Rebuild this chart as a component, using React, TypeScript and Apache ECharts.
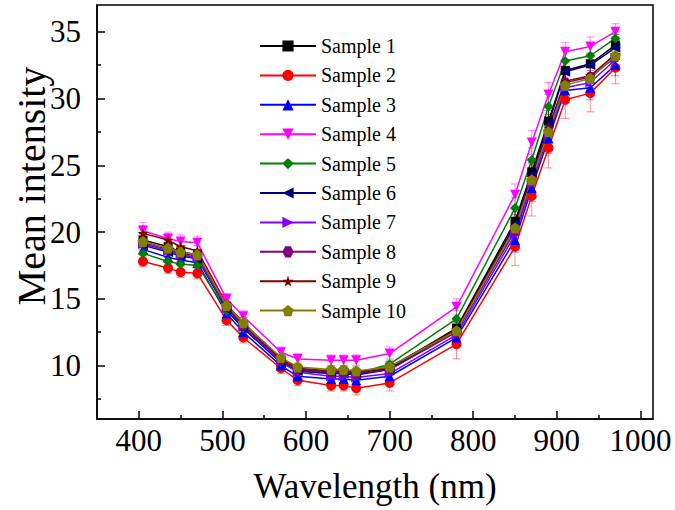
import React, { useEffect, useRef } from "react";
import * as echarts from "echarts";

const wavelengths = [405, 435, 450, 470, 505, 525, 570, 590, 630, 645, 660, 700, 780, 850, 870, 890, 910, 940, 970];

const sampleNames = ["Sample 1", "Sample 2", "Sample 3", "Sample 4", "Sample 5", "Sample 6", "Sample 7", "Sample 8", "Sample 9", "Sample 10"];

const sample1 = [19.4, 18.9, 18.5, 18.3, 14.4, 13.0, 10.4, 9.7, 9.5, 9.5, 9.4, 9.8, 12.8, 20.8, 24.5, 28.3, 32.1, 32.6, 34.0];
const sample2 = [17.8, 17.3, 17.0, 16.9, 13.4, 12.1, 9.8, 8.9, 8.5, 8.5, 8.3, 8.7, 11.6, 18.9, 22.7, 26.3, 29.9, 30.4, 32.3];
const sample3 = [18.7, 18.1, 17.9, 17.7, 13.9, 12.5, 10.0, 9.2, 9.0, 9.0, 8.9, 9.2, 12.1, 19.4, 23.3, 27.0, 30.6, 30.8, 32.5];
const sample4 = [20.1, 19.5, 19.3, 19.2, 15.0, 13.7, 11.0, 10.5, 10.4, 10.4, 10.4, 10.9, 14.4, 22.8, 26.7, 30.3, 33.5, 33.9, 35.0];
const sample5 = [18.4, 17.8, 17.6, 17.5, 14.1, 12.8, 10.3, 9.6, 9.4, 9.4, 9.4, 10.1, 13.5, 21.8, 25.4, 29.4, 32.8, 33.2, 34.5];
const sample6 = [19.0, 18.5, 18.2, 18.0, 14.2, 12.8, 10.2, 9.6, 9.4, 9.4, 9.3, 9.7, 12.6, 20.6, 24.3, 28.1, 32.0, 32.5, 33.8];
const sample7 = [19.1, 18.6, 18.3, 18.1, 14.3, 12.9, 10.3, 9.5, 9.2, 9.2, 9.1, 9.4, 12.3, 19.8, 23.6, 27.3, 30.8, 31.2, 32.9];
const sample8 = [19.2, 18.7, 18.4, 18.2, 14.4, 13.0, 10.4, 9.7, 9.5, 9.5, 9.4, 9.7, 12.5, 20.1, 23.8, 27.6, 31.2, 31.6, 33.1];
const sample9 = [19.9, 19.4, 18.9, 18.6, 14.6, 13.2, 10.5, 9.8, 9.6, 9.6, 9.5, 9.9, 12.7, 20.4, 24.1, 27.8, 31.3, 31.7, 33.3];
const sample10 = [19.3, 18.8, 18.5, 18.3, 14.5, 13.2, 10.6, 9.9, 9.7, 9.7, 9.6, 9.9, 12.6, 20.3, 23.9, 27.5, 31.0, 31.5, 33.2];

const err1 = [0.5, 0.5, 0.5, 0.4, 0.4, 0.4, 0.3, 0.3, 0.3, 0.3, 0.3, 0.4, 0.6, 0.9, 1.0, 1.0, 0.8, 0.8, 0.8];
const err2 = [0.4, 0.4, 0.4, 0.4, 0.4, 0.4, 0.4, 0.4, 0.4, 0.4, 0.5, 0.6, 1.1, 1.4, 1.5, 1.5, 1.4, 1.4, 1.2];
const err3 = [0.4, 0.4, 0.4, 0.4, 0.3, 0.3, 0.3, 0.3, 0.3, 0.3, 0.3, 0.4, 0.6, 0.9, 1.0, 1.1, 0.9, 0.9, 0.8];
const err4 = [0.6, 0.5, 0.5, 0.5, 0.4, 0.4, 0.4, 0.4, 0.4, 0.4, 0.4, 0.5, 0.6, 0.8, 0.9, 0.9, 0.7, 0.7, 0.6];
const err5 = [0.5, 0.4, 0.4, 0.4, 0.4, 0.3, 0.3, 0.3, 0.3, 0.3, 0.3, 0.4, 0.6, 0.8, 0.9, 0.9, 0.8, 0.8, 0.7];
const err6 = [0.5, 0.4, 0.4, 0.4, 0.4, 0.3, 0.3, 0.3, 0.3, 0.3, 0.3, 0.4, 0.6, 0.9, 0.9, 1.0, 0.8, 0.8, 0.8];
const err7 = [0.5, 0.5, 0.4, 0.4, 0.4, 0.3, 0.3, 0.3, 0.3, 0.3, 0.3, 0.4, 0.6, 0.9, 1.0, 1.0, 0.9, 0.9, 0.8];
const err8 = [0.5, 0.5, 0.4, 0.4, 0.4, 0.3, 0.3, 0.3, 0.3, 0.3, 0.3, 0.4, 0.6, 0.9, 1.0, 1.0, 0.9, 0.9, 0.8];
const err9 = [0.6, 0.5, 0.5, 0.4, 0.4, 0.4, 0.3, 0.3, 0.3, 0.3, 0.3, 0.4, 0.6, 0.9, 1.0, 1.0, 0.9, 0.9, 0.8];
const err10 = [0.5, 0.5, 0.4, 0.4, 0.4, 0.4, 0.3, 0.3, 0.3, 0.3, 0.3, 0.4, 0.6, 0.9, 1.0, 1.0, 0.9, 0.9, 0.8];

const sampleValues = [sample1, sample2, sample3, sample4, sample5, sample6, sample7, sample8, sample9, sample10];
const sampleErrors = [err1, err2, err3, err4, err5, err6, err7, err8, err9, err10];

const xMajorTicks = [400, 500, 600, 700, 800, 900, 1000];
const xMinorTicks = [450, 550, 650, 750, 850, 950];
const yMajorTicks = [10, 15, 20, 25, 30, 35];
const yMinorTicks = [7.5, 12.5, 17.5, 22.5, 27.5, 32.5];

const yTitle = "Mean intensity";
const xTitle = "Wavelength (nm)";

const colors = ["#000000", "#ff0000", "#0000ff", "#ff00ff", "#008000", "#000080", "#8000ff", "#800080", "#800000", "#808000"];
const symbols = [
  "rect",
  "circle",
  "triangle",
  "path://M0,0 L10,0 L5,9 Z",
  "diamond",
  "path://M0,5 L9,0 L9,10 Z",
  "path://M0,0 L9,5 L0,10 Z",
  "path://M2.5,0 L7.5,0 L10,4.33 L7.5,8.66 L2.5,8.66 L0,4.33 Z",
  "path://M5,0 L6.18,3.6 L10,3.6 L6.9,5.8 L8.1,9.5 L5,7.3 L1.9,9.5 L3.1,5.8 L0,3.6 L3.82,3.6 Z",
  "path://M5,0 L10,3.6 L8.1,9.5 L1.9,9.5 L0,3.6 Z",
];
const symbolSizes = [9, 10, 10, 10, 10, 10, 10, 10, 11, 11];

const FONT = "'Liberation Serif', 'Times New Roman', serif";

export default function App() {
  const ref = useRef<HTMLDivElement>(null);
  useEffect(() => {
    if (!ref.current) return;
    const chart = echarts.init(ref.current, undefined, { renderer: "svg" });

    const errSeries = sampleNames.map((name, i) => ({
      type: "custom",
      name: "err" + (i + 1),
      xAxisIndex: 0,
      yAxisIndex: 0,
      z: 1,
      silent: true,
      data: wavelengths.map((w, j) => [w, sampleValues[i][j], sampleErrors[i][j]]),
      renderItem: (params: any, api: any) => {
        const x = api.value(0);
        const y = api.value(1);
        const e = api.value(2);
        const lo = api.coord([x, y - e]);
        const hi = api.coord([x, y + e]);
        const hw = 4;
        const style = { stroke: colors[i], lineWidth: 1, opacity: 0.45 };
        return {
          type: "group",
          children: [
            { type: "line", shape: { x1: lo[0], y1: lo[1], x2: hi[0], y2: hi[1] }, style },
            { type: "line", shape: { x1: lo[0] - hw, y1: lo[1], x2: lo[0] + hw, y2: lo[1] }, style },
            { type: "line", shape: { x1: hi[0] - hw, y1: hi[1], x2: hi[0] + hw, y2: hi[1] }, style },
          ],
        };
      },
    }));

    const lineSeries = sampleNames.map((name, i) => ({
      type: "line",
      name,
      xAxisIndex: 0,
      yAxisIndex: 0,
      z: 2,
      data: wavelengths.map((w, j) => [w, sampleValues[i][j]]),
      symbol: symbols[i],
      symbolSize: symbolSizes[i],
      showAllSymbol: true,
      lineStyle: { color: colors[i], width: 1.5 },
      itemStyle: { color: colors[i] },
    }));

    const xBase = {
      type: "value",
      min: 350,
      max: 1015,
      position: "bottom",
      splitLine: { show: false },
    };
    const yBase = {
      type: "value",
      min: 6,
      max: 37,
      position: "left",
      splitLine: { show: false },
    };

    chart.setOption({
      animation: false,
      backgroundColor: "#ffffff",
      grid: {
        left: 97,
        top: 5,
        right: 22,
        bottom: 91,
        containLabel: false,
        outerBoundsMode: "none",
        show: true,
        borderColor: "#000",
        borderWidth: 1.5,
      },
      graphic: [
        {
          type: "text",
          x: 31,
          y: 186,
          rotation: Math.PI / 2,
          style: {
            text: yTitle,
            fontFamily: FONT,
            fontSize: 40,
            fill: "#000",
            align: "center",
            verticalAlign: "middle",
          },
        },
      ],
      legend: {
        data: sampleNames,
        orient: "vertical",
        left: 254,
        top: 31,
        itemWidth: 56,
        itemHeight: 14,
        itemGap: 9.4,
        textStyle: { fontFamily: FONT, fontSize: 20, color: "#000", lineHeight: 20 },
      },
      xAxis: [
        {
          ...xBase,
          name: xTitle,
          nameLocation: "middle",
          nameGap: 50,
          nameTextStyle: { fontFamily: FONT, fontSize: 35, color: "#000" },
          axisLine: { show: true, onZero: false, lineStyle: { color: "#000", width: 1.5 } },
          axisTick: { show: true, inside: true, length: 8, lineStyle: { color: "#000", width: 1.5 }, customValues: xMajorTicks },
          axisLabel: { fontFamily: FONT, fontSize: 31, color: "#000", margin: 6, customValues: xMajorTicks, formatter: (v: number) => String(v) },
        },
        {
          ...xBase,
          axisLine: { show: false },
          axisTick: { show: true, inside: true, length: 4, lineStyle: { color: "#000", width: 1.5 }, customValues: xMinorTicks },
          axisLabel: { show: false, customValues: xMinorTicks },
        },
      ],
      yAxis: [
        {
          ...yBase,
          axisLine: { show: true, onZero: false, lineStyle: { color: "#000", width: 1.5 } },
          axisTick: { show: true, inside: true, length: 8, lineStyle: { color: "#000", width: 1.5 }, customValues: yMajorTicks },
          axisLabel: { fontFamily: FONT, fontSize: 31, color: "#000", margin: 16, customValues: yMajorTicks, formatter: (v: number) => String(v) },
        },
        {
          ...yBase,
          axisLine: { show: false },
          axisTick: { show: true, inside: true, length: 4, lineStyle: { color: "#000", width: 1.5 }, customValues: yMinorTicks },
          axisLabel: { show: false, customValues: yMinorTicks },
        },
      ],
      series: [...errSeries, ...lineSeries],
    });
    return () => chart.dispose();
  }, []);
  return <div ref={ref} style={{ width: 675, height: 510, position: "fixed", left: 0, top: 0 }} />;
}
